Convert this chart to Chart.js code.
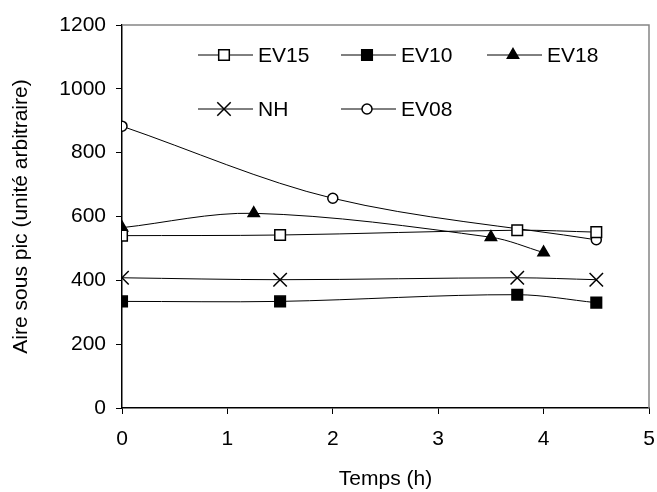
<!DOCTYPE html>
<html>
<head>
<meta charset="utf-8">
<script src="https://cdn.jsdelivr.net/npm/chart.js@4/dist/chart.umd.min.js"></script>
<style>
  html, body { margin: 0; padding: 0; background: #fff; }
  #wrap { width: 657px; height: 492px; }
</style>
</head>
<body>
<div id="wrap"><canvas id="graph" width="657" height="492"></canvas></div>
<script>
// temps (h) et aire sous pic
const tEV15 = [0, 1.5, 3.75, 4.5];
const aEV15 = [540, 542, 557, 551];
const tEV10 = [0, 1.5, 3.75, 4.5];
const aEV10 = [334, 334, 355, 330];
const tEV18 = [0, 1.25, 3.5, 4];
const aEV18 = [565, 610, 535, 487];
const tNH = [0, 1.5, 3.75, 4.5];
const aNH = [408, 402, 408, 402];
const tEV08 = [0, 2, 4.5];
const aEV08 = [883, 657, 527];

const xTicks = [0, 1, 2, 3, 4, 5];
const yTicks = [0, 200, 400, 600, 800, 1000, 1200];

const police = "'Liberation Sans', Arial, sans-serif";
const taille = 21;

function points(xs, ys) {
  return xs.map((x, i) => ({ x: x, y: ys[i] }));
}

function serie(label, xs, ys, style, radius, fill) {
  return {
    label: label,
    data: points(xs, ys),
    borderColor: "#000",
    borderWidth: 1,
    backgroundColor: fill,
    pointStyle: style,
    pointRadius: radius,
    pointBorderWidth: 1.5,
    pointBorderColor: "#000",
    pointBackgroundColor: fill,
    tension: 0.33,
  };
}

const datasets = [
  serie("EV15", tEV15, aEV15, "rect", 7.5, "#fff"),
  serie("EV10", tEV10, aEV10, "rect", 7.5, "#000"),
  serie("EV18", tEV18, aEV18, "triangle", 6.5, "#000"),
  serie("NH", tNH, aNH, "crossRot", 9.5, "#000"),
  serie("EV08", tEV08, aEV08, "circle", 5, "#fff"),
];

// légende dessinée dans la zone de tracé : ligne - marqueur - ligne, puis texte
const legendeSlots = [
  { dx: 76, dy: 30 },   // EV15
  { dx: 219, dy: 30 },  // EV10
  { dx: 365, dy: 30 },  // EV18
  { dx: 76, dy: 84 },   // NH
  { dx: 219, dy: 84 },  // EV08
];

const legendePlugin = {
  id: "legendeInterne",
  afterDatasetsDraw(chart) {
    const ctx = chart.ctx;
    const area = chart.chartArea;
    ctx.save();
    chart.data.datasets.forEach((ds, i) => {
      const slot = legendeSlots[i];
      const x0 = area.left + slot.dx;
      const y = area.top + slot.dy;
      ctx.strokeStyle = "#000";
      ctx.lineWidth = 1;
      ctx.beginPath();
      ctx.moveTo(x0, y);
      ctx.lineTo(x0 + 55, y);
      ctx.stroke();
      ctx.fillStyle = ds.pointBackgroundColor;
      ctx.lineWidth = ds.pointBorderWidth;
      Chart.helpers.drawPoint(ctx, {
        pointStyle: ds.pointStyle,
        radius: ds.pointRadius,
        rotation: 0,
        borderWidth: ds.pointBorderWidth,
      }, x0 + 26, y);
      ctx.fillStyle = "#000";
      ctx.font = taille + "px " + police;
      ctx.textBaseline = "middle";
      ctx.textAlign = "left";
      ctx.fillText(ds.label, x0 + 60, y + 1);
    });
    ctx.restore();
  },
  beforeDatasetsDraw(chart) {
    // cadre gris en haut et à droite
    const ctx = chart.ctx;
    const a = chart.chartArea;
    ctx.save();
    ctx.strokeStyle = "#858585";
    ctx.lineWidth = 1.5;
    ctx.beginPath();
    ctx.moveTo(a.left, a.top);
    ctx.lineTo(a.right, a.top);
    ctx.lineTo(a.right, a.bottom);
    ctx.stroke();
    ctx.restore();
  },
};

new Chart(document.getElementById("graph"), {
  type: "line",
  data: { datasets: datasets },
  plugins: [legendePlugin],
  options: {
    responsive: false,
    animation: false,
    layout: { autoPadding: false, padding: { left: 0, right: 8, top: 25, bottom: 0 } },
    plugins: {
      legend: { display: false },
      tooltip: { enabled: false },
    },
    scales: {
      x: {
        type: "linear",
        min: 0,
        max: 5,
        afterBuildTicks: (s) => { s.ticks = xTicks.map((v) => ({ value: v })); },
        afterFit: (s) => { s.height = 84; s.paddingRight = 0; s.paddingLeft = 0; },
        border: { color: "#000", width: 1.5 },
        grid: { drawOnChartArea: false, drawTicks: true, tickLength: 6, color: "#000", lineWidth: 1 },
        ticks: { color: "#000", font: { family: police, size: taille }, padding: 13 },
        title: {
          display: true,
          text: "Temps (h)",
          color: "#000",
          font: { family: police, size: taille },
          padding: { top: 0, bottom: 0 },
        },
      },
      y: {
        type: "linear",
        min: 0,
        max: 1200,
        afterBuildTicks: (s) => { s.ticks = yTicks.map((v) => ({ value: v })); },
        afterFit: (s) => { s.width = 122; s.paddingTop = 0; s.paddingBottom = 0; },
        border: { color: "#000", width: 1.5 },
        grid: { drawOnChartArea: false, drawTicks: true, tickLength: 6, color: "#000", lineWidth: 1 },
        ticks: {
          color: "#000",
          font: { family: police, size: taille },
          padding: 10,
          callback: (v) => String(v),
        },
        title: {
          display: true,
          text: "Aire sous pic (unité arbitraire)",
          color: "#000",
          font: { family: police, size: taille },
          padding: { top: 9, bottom: 0 },
        },
      },
    },
  },
});
</script>
</body>
</html>
